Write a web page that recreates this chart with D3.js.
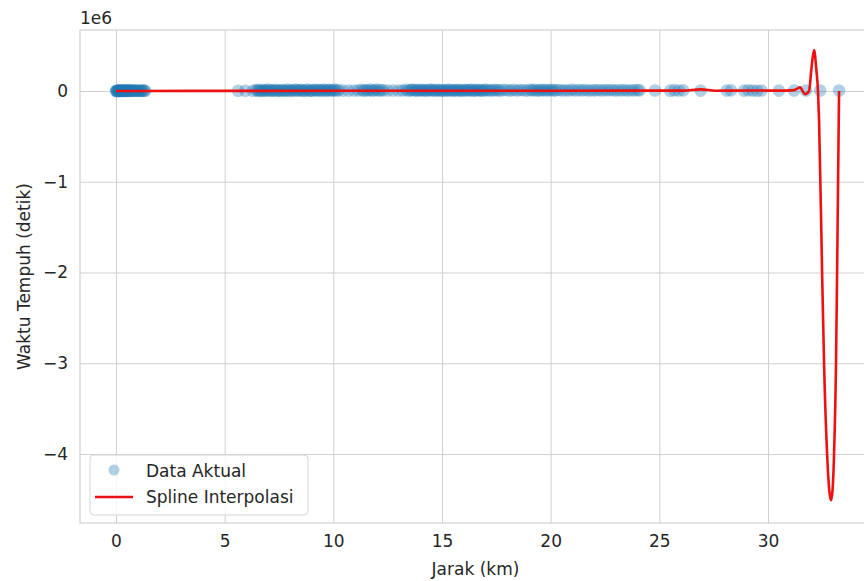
<!DOCTYPE html>
<html>
<head>
<meta charset="utf-8">
<script src="https://cdn.jsdelivr.net/npm/d3@7"></script>
<style>
  html, body { margin: 0; padding: 0; background: #ffffff; }
  svg { display: block; font-family: "DejaVu Sans", sans-serif; }
</style>
</head>
<body>
<svg id="chart" width="864" height="581"></svg>
<script>
// ---- data ----
const xTicks = [0, 5, 10, 15, 20, 25, 30];
const yTicks = [-4e6, -3e6, -2e6, -1e6, 0];
const yTickLabels = ["\u22124", "\u22123", "\u22122", "\u22121", "0"];

// actual data: [distance (km), travel time (seconds)]
const dataAktual = [
  [0.00,90],[0.02,150],[0.04,2400],[0.06,600],[0.08,5200],[0.10,300],[0.12,1800],[0.14,7000],[0.16,450],[0.19,3100],
  [0.21,900],[0.24,6200],[0.27,1200],[0.30,4000],[0.33,700],[0.36,8500],[0.39,2000],[0.42,500],[0.45,3600],[0.48,1100],
  [0.51,6800],[0.54,800],[0.57,2700],[0.60,5000],[0.64,1400],[0.68,9000],[0.72,600],[0.76,3300],[0.80,1900],[0.85,7400],
  [0.90,1000],[0.95,4500],[1.00,2200],[1.05,800],[1.10,5600],[1.15,1500],[1.20,3000],[1.25,6400],[1.30,1200],[1.34,2600],
  [5.62,2200],[5.95,3100],[6.30,2600],
  [6.45,9500],[6.52,1600],[6.58,14000],[6.66,3200],[6.72,800],[6.80,12000],[6.87,5000],[6.93,2100],[7.00,15000],[7.08,6500],
  [7.15,1100],[7.22,9800],[7.30,3400],[7.37,13000],[7.45,700],[7.52,7200],[7.60,2800],[7.67,11500],[7.75,4600],[7.82,1700],
  [7.90,16000],[7.97,5600],[8.05,900],[8.12,10500],[8.20,3800],[8.28,14500],[8.35,2200],[8.43,6800],[8.50,12500],[8.58,4100],
  [8.65,1400],[8.73,8800],[8.80,15500],[8.88,3000],[8.95,7000],[9.03,1900],[9.10,11800],[9.18,5300],[9.25,13500],[9.33,2700],
  [9.40,9200],[9.48,4700],[9.55,16500],[9.63,1300],[9.70,8200],[9.78,12800],[9.85,3500],[9.93,10200],[10.00,6100],[10.08,15200],
  [10.15,2000],[10.25,9600],
  [10.45,4400],[10.70,3900],[10.95,5200],[11.15,4800],
  [11.30,13800],[11.40,1600],[11.50,11000],[11.60,5800],[11.70,14800],[11.80,3100],[11.90,8600],[12.00,16200],[12.10,2300],[12.20,10800],[12.30,6400],
  [12.50,5100],[12.75,4600],[13.00,5900],[13.20,4900],
  [13.35,13200],[13.45,1800],[13.55,9400],[13.62,15800],[13.70,4900],[13.78,12200],[13.85,2900],[13.93,7800],[14.00,14200],[14.08,3700],
  [14.15,11200],[14.23,6900],[14.30,2500],[14.38,9900],[14.45,15000],[14.53,4300],[14.60,12600],[14.68,2100],[14.75,8300],[14.83,13600],
  [14.90,5100],[14.98,1700],[15.05,10400],[15.13,7400],[15.20,3300],[15.28,14600],[15.35,6200],[15.43,11600],[15.50,2600],[15.58,9100],
  [15.65,4800],[15.73,13000],[15.80,3900],[15.88,8700],[15.95,1900],[16.03,12400],[16.10,5500],[16.18,10600],[16.25,7100],[16.33,15400],
  [16.40,2400],[16.48,9700],[16.55,4200],[16.63,13900],[16.70,6000],[16.78,11300],[16.85,3000],[16.93,8100],[17.00,14900],[17.10,5400],
  [17.20,10100],[17.30,2800],[17.40,12900],[17.50,6600],[17.60,9300],[17.70,4000],[17.85,11900],[18.00,7600],[18.15,3600],[18.30,13300],
  [18.45,5700],[18.60,10900],[18.75,8000],[18.90,4500],[19.05,12100],[19.15,6300],[19.25,14100],[19.35,3400],[19.45,9500],[19.55,7300],
  [19.65,12700],[19.75,5000],[19.85,10300],[19.95,6700],[20.05,13700],[20.15,4100],[20.25,9000],[20.40,11700],
  [20.55,5300],[20.70,8900],[20.85,6100],[21.00,12300],[21.15,4700],[21.30,9800],[21.45,7000],[21.60,11100],[21.75,5600],[21.90,8500],
  [22.05,6800],[22.20,10700],[22.35,5200],[22.50,9200],[22.65,7500],[22.80,11400],[22.95,6000],[23.10,8400],[23.25,7200],[23.40,10000],
  [23.55,5900],[23.70,8800],[23.85,6500],[24.00,9400],[24.10,7000],
  [24.80,4800],[25.50,3500],[25.70,9000],[25.90,5200],[26.10,6600],[26.90,4500],[28.10,3800],[28.30,7200],[28.90,4100],[29.10,8400],
  [29.30,5900],[29.50,3300],[29.70,6000],[30.50,4200],[31.20,5400],[31.75,4700],[32.40,5100],[33.27,5600]
];

// spline interpolation curve: distance (km) and time (seconds)
const splineJarak = [0, 1.3, 5.6, 10, 15, 20, 24, 26.1, 26.9, 27.6, 28.3, 29.7, 30.5, 31.2, 31.47, 31.7, 31.89, 32.0, 32.12, 32.22, 32.3, 32.35, 32.49, 32.58, 32.72, 32.82, 32.9, 32.97, 33.04, 33.13, 33.18, 33.27];
const splineWaktu = [300, 400, 1200, 1900, 2600, 3300, 3900, 4200, 18000, 3000, 4500, 5000, 4000, 10000, 40000, -35000, 0, 250000, 450000, 250000, 0, -320000, -2000000, -3000000, -4000000, -4400000, -4510000, -4400000, -4000000, -3000000, -2000000, 0];

// ---- layout ----
const svg = d3.select("#chart");
const L = 80, R = 871, T = 30, B = 523;
const gridColor = "#d0d0d0";
const textColor = "#262626";
const fs = 17;

const x = d3.scaleLinear().domain([-1.657, 34.74]).range([L, R]);
const y = d3.scaleLinear().domain([-4.76e6, 0.672e6]).range([B, T]);

svg.append("defs").append("clipPath").attr("id", "clip")
  .append("rect").attr("x", L).attr("y", T).attr("width", R - L).attr("height", B - T);

// grid via axes
const gx = svg.append("g").attr("transform", `translate(0,${B})`)
  .call(d3.axisBottom(x).tickValues(xTicks).tickSize(-(B - T)).tickPadding(12).tickFormat(d3.format("d")));
gx.select(".domain").remove();
gx.selectAll(".tick line").attr("stroke", gridColor).attr("stroke-width", 1);
gx.selectAll(".tick text").attr("fill", textColor).attr("font-size", fs).attr("font-family", "DejaVu Sans");

const gy = svg.append("g").attr("transform", `translate(${L},0)`)
  .call(d3.axisLeft(y).tickValues(yTicks).tickSize(-(R - L)).tickPadding(12).tickFormat((d, i) => yTickLabels[i]));
gy.select(".domain").remove();
gy.selectAll(".tick line").attr("stroke", gridColor).attr("stroke-width", 1);
gy.selectAll(".tick text").attr("fill", textColor).attr("font-size", fs).attr("font-family", "DejaVu Sans");

// spines
svg.append("rect").attr("x", L).attr("y", T).attr("width", R - L).attr("height", B - T)
  .attr("fill", "none").attr("stroke", gridColor).attr("stroke-width", 1.2);

const plot = svg.append("g").attr("clip-path", "url(#clip)");

// scatter
plot.append("g").selectAll("circle").data(dataAktual).join("circle")
  .attr("cx", d => x(d[0])).attr("cy", d => y(d[1])).attr("r", 6.3)
  .attr("fill", "#1f77b4").attr("fill-opacity", 0.35);

// spline line
const sp = splineJarak.map((d, i) => ({ j: d, w: splineWaktu[i] }));
plot.append("path").datum(sp)
  .attr("d", d3.line().x(d => x(d.j)).y(d => y(d.w)).curve(d3.curveMonotoneX))
  .attr("fill", "none").attr("stroke", "#ee1111").attr("stroke-width", 2.6)
  .attr("stroke-linejoin", "round");

// offset text
svg.append("text").attr("x", L).attr("y", 24).attr("fill", textColor)
  .attr("font-size", fs).text("1e6");

// axis labels
svg.append("text").attr("x", (L + R) / 2).attr("y", 575).attr("text-anchor", "middle")
  .attr("fill", textColor).attr("font-size", fs).text("Jarak (km)");
svg.append("text").attr("transform", `translate(30,${(T + B) / 2}) rotate(-90)`)
  .attr("text-anchor", "middle").attr("fill", textColor).attr("font-size", fs)
  .text("Waktu Tempuh (detik)");

// legend
const lg = svg.append("g");
lg.append("rect").attr("x", 90).attr("y", 455).attr("width", 218).attr("height", 60).attr("rx", 4)
  .attr("fill", "#ffffff").attr("fill-opacity", 0.8).attr("stroke", "#d6d6d6");
lg.append("circle").attr("cx", 114).attr("cy", 470).attr("r", 5.5)
  .attr("fill", "#1f77b4").attr("fill-opacity", 0.35);
lg.append("text").attr("x", 146).attr("y", 477).attr("fill", textColor).attr("font-size", fs).text("Data Aktual");
lg.append("line").attr("x1", 95).attr("x2", 133).attr("y1", 497).attr("y2", 497)
  .attr("stroke", "#ee1111").attr("stroke-width", 2.6);
lg.append("text").attr("x", 146).attr("y", 503).attr("fill", textColor).attr("font-size", fs).text("Spline Interpolasi");
</script>
</body>
</html>
